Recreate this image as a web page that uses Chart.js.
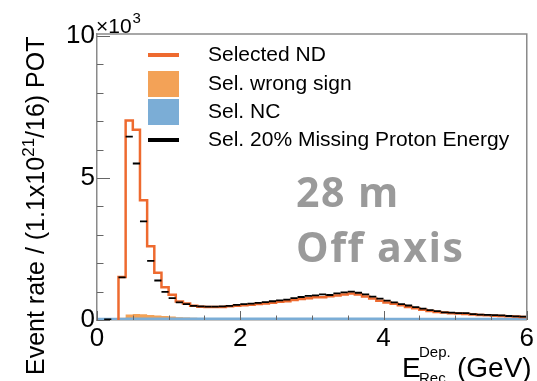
<!DOCTYPE html>
<html>
<head>
<meta charset="utf-8">
<script src="https://cdn.jsdelivr.net/npm/chart.js@4"></script>
<style>
  html, body { margin: 0; padding: 0; background: #fff; }
  #wrap { width: 537px; height: 381px; position: relative; }
</style>
</head>
<body>
<div id="wrap"><canvas id="chart" width="537" height="381"></canvas></div>
<script>
// bin lower edges (GeV), 0.1 GeV wide
const binLow = [
  0.0, 0.1, 0.2, 0.3, 0.4, 0.5, 0.6, 0.7, 0.8, 0.9,
  1.0, 1.1, 1.2, 1.3, 1.4, 1.5, 1.6, 1.7, 1.8, 1.9,
  2.0, 2.1, 2.2, 2.3, 2.4, 2.5, 2.6, 2.7, 2.8, 2.9,
  3.0, 3.1, 3.2, 3.3, 3.4, 3.5, 3.6, 3.7, 3.8, 3.9,
  4.0, 4.1, 4.2, 4.3, 4.4, 4.5, 4.6, 4.7, 4.8, 4.9,
  5.0, 5.1, 5.2, 5.3, 5.4, 5.5, 5.6, 5.7, 5.8, 5.9
];
const binWidth = 0.1;
const xMax = 6;

// event rates in units of 10^3
const selectedND = [
  0, 0, 0, 1.51, 7.02, 6.70, 4.22, 2.60, 1.66, 1.15,
  0.89, 0.65, 0.58, 0.50, 0.47, 0.46, 0.46, 0.46, 0.48, 0.50,
  0.52, 0.54, 0.56, 0.58, 0.61, 0.64, 0.66, 0.70, 0.74, 0.77,
  0.80, 0.80, 0.84, 0.86, 0.90, 0.93, 0.90, 0.83, 0.76, 0.68,
  0.62, 0.57, 0.52, 0.46, 0.41, 0.36, 0.32, 0.28, 0.26, 0.24,
  0.23, 0.21, 0.19, 0.18, 0.17, 0.15, 0.14, 0.13, 0.12, 0.11
];
const wrongSign = [
  0, 0, 0, 0.08, 0.19, 0.21, 0.20, 0.18, 0.16, 0.14,
  0.12, 0.10, 0.09, 0.08, 0.07, 0.06, 0.05, 0.05, 0.05, 0.05,
  0.04, 0.04, 0.04, 0.04, 0.04, 0.04, 0.04, 0.04, 0.04, 0.04,
  0.04, 0.04, 0.04, 0.04, 0.04, 0.04, 0.04, 0.04, 0.04, 0.04,
  0.03, 0.03, 0.03, 0.03, 0.03, 0.03, 0.03, 0.03, 0.03, 0.03,
  0.03, 0.03, 0.03, 0.03, 0.03, 0.03, 0.03, 0.03, 0.03, 0.03
];
const selNC = [
  0.08, 0.08, 0.08, 0.08, 0.09, 0.09, 0.09, 0.09, 0.09, 0.09,
  0.09, 0.09, 0.09, 0.09, 0.09, 0.09, 0.09, 0.09, 0.09, 0.09,
  0.09, 0.09, 0.09, 0.09, 0.09, 0.09, 0.09, 0.09, 0.09, 0.09,
  0.09, 0.09, 0.09, 0.09, 0.09, 0.09, 0.09, 0.09, 0.09, 0.09,
  0.08, 0.08, 0.08, 0.08, 0.08, 0.08, 0.08, 0.08, 0.08, 0.08,
  0.08, 0.08, 0.08, 0.08, 0.08, 0.08, 0.08, 0.08, 0.08, 0.08
];
const missingProton = [
  null, 0.02, null, 1.50, 6.46, 5.51, 3.47, 2.08, 1.39, 0.99,
  0.77, 0.62, 0.56, 0.50, 0.48, 0.47, 0.47, 0.48, 0.50, 0.53,
  0.56, 0.58, 0.60, 0.63, 0.66, 0.69, 0.72, 0.77, 0.81, 0.85,
  0.87, 0.90, 0.88, 0.94, 0.97, 1.00, 0.96, 0.90, 0.82, 0.75,
  0.68, 0.62, 0.56, 0.51, 0.45, 0.40, 0.35, 0.31, 0.27, 0.26,
  0.24, 0.24, 0.21, 0.19, 0.18, 0.17, 0.16, 0.14, 0.13, 0.12
];

const xTicks = [0, 2, 4, 6];
const yTicks = [0, 5, 10];
const xMinorStep = 0.5;
const yMinorStep = 1;

const legendItems = [
  { label: 'Selected ND', kind: 'line', color: '#ee6a2f' },
  { label: 'Sel. wrong sign', kind: 'box', color: '#f3a257' },
  { label: 'Sel. NC', kind: 'box', color: '#7badd6' },
  { label: 'Sel. 20% Missing Proton Energy', kind: 'line', color: '#000' }
];

const FONT = '"Liberation Sans", Arial, Helvetica, sans-serif';

// step outline: points at bin low edges, last one closes at xMax
function stepPoints(vals, skipLeadingZeros) {
  const pts = [];
  let started = !skipLeadingZeros;
  vals.forEach((v, i) => {
    if (!started) {
      if (!v) return;
      started = true;
      pts.push({ x: binLow[i], y: 0 });
    }
    pts.push({ x: binLow[i], y: v });
  });
  pts.push({ x: xMax, y: vals[vals.length - 1] });
  return pts;
}

const centerPoints = missingProton
  .map((v, i) => (v === null ? null : { x: binLow[i] + binWidth / 2, y: v }))
  .filter(p => p);

const decor = {
  id: 'decor',
  afterDraw(chart) {
    const ctx = chart.ctx;
    const xs = chart.scales.x, ys = chart.scales.y;
    const a = chart.chartArea;
    ctx.save();

    // frame (top, right)
    ctx.strokeStyle = '#8a8a8a';
    ctx.lineWidth = 1.5;
    ctx.beginPath();
    ctx.moveTo(a.left, a.top);
    ctx.lineTo(a.right, a.top);
    ctx.lineTo(a.right, a.bottom);
    ctx.stroke();

    // inward tick marks
    ctx.strokeStyle = '#666';
    ctx.lineWidth = 1;
    ctx.beginPath();
    for (let v = 0; v <= xMax + 1e-9; v += xMinorStep) {
      const px = Math.round(xs.getPixelForValue(v)) + 0.5;
      const len = xTicks.includes(Math.round(v * 10) / 10) ? 9 : 4.5;
      ctx.moveTo(px, a.bottom);
      ctx.lineTo(px, a.bottom - len);
    }
    for (let v = 0; v <= ys.max + 1e-9; v += yMinorStep) {
      const py = Math.round(ys.getPixelForValue(v)) + 0.5;
      const len = yTicks.includes(v) ? 13 : 6.5;
      ctx.moveTo(a.left, py);
      ctx.lineTo(a.left + len, py);
    }
    ctx.stroke();

    // legend
    ctx.textBaseline = 'middle';
    ctx.textAlign = 'left';
    ctx.font = '21px ' + FONT;
    const rows = [55, 84, 112, 140];
    legendItems.forEach((it, i) => {
      const y = rows[i];
      ctx.fillStyle = it.color;
      if (it.kind === 'line') {
        ctx.fillRect(148, y - 2, 31, 4);
      } else {
        ctx.fillRect(148, y - 13, 31, 26);
      }
      ctx.fillStyle = '#000';
      ctx.fillText(it.label, 208, y);
    });

    // x10^3 multiplier
    ctx.textBaseline = 'alphabetic';
    ctx.font = '21px ' + FONT;
    ctx.fillText('\u00d710', 96, 33);
    const mw = ctx.measureText('\u00d710').width;
    ctx.font = '15px ' + FONT;
    ctx.fillText('3', 96 + mw + 1, 23);

    // y-axis title
    ctx.save();
    ctx.translate(44, 375);
    ctx.rotate(-Math.PI / 2);
    ctx.font = '25px ' + FONT;
    const t1 = 'Event rate / (1.1x10';
    ctx.fillText(t1, 0, 0);
    let w = ctx.measureText(t1).width;
    ctx.font = '17px ' + FONT;
    ctx.fillText('21', w, -10);
    w += ctx.measureText('21').width;
    ctx.font = '25px ' + FONT;
    ctx.fillText('/16) POT', w, 0);
    ctx.restore();

    // x-axis title
    ctx.font = '28px ' + FONT;
    ctx.fillText('E', 402, 377);
    ctx.font = '15px ' + FONT;
    ctx.fillText('Dep.', 419, 357);
    ctx.fillText('Rec.', 419, 383);
    ctx.font = '28px ' + FONT;
    ctx.fillText('(GeV)', 457, 377);

    // annotation
    ctx.fillStyle = '#9a9a9a';
    ctx.font = 'bold 41px "Open Sans", sans-serif';
    if ('letterSpacing' in ctx) ctx.letterSpacing = '1.5px';
    ctx.fillText('28 m', 296, 207);
    ctx.fillText('Off axis', 296, 262);

    ctx.restore();
  }
};

new Chart(document.getElementById('chart'), {
  type: 'line',
  data: {
    datasets: [
      {
        label: 'Sel. 20% Missing Proton Energy',
        data: centerPoints,
        showLine: false,
        pointStyle: 'line',
        borderColor: '#000',
        backgroundColor: '#000',
        borderWidth: 1.8,
        radius: c => {
          const s = c.chart.scales.x;
          return s ? (s.getPixelForValue(binWidth) - s.getPixelForValue(0)) / 2 : 3.6;
        },
        hoverRadius: 3.6,
        order: 0
      },
      {
        label: 'Selected ND',
        data: stepPoints(selectedND, true),
        stepped: 'before',
        borderColor: '#ee6a2f',
        borderWidth: 2.5,
        pointRadius: 0,
        fill: false,
        order: 1
      },
      {
        label: 'Sel. NC',
        data: stepPoints(selNC, false),
        stepped: 'before',
        borderWidth: 0,
        borderColor: '#7badd6',
        backgroundColor: '#7badd6',
        pointRadius: 0,
        fill: 'origin',
        order: 2
      },
      {
        label: 'Sel. wrong sign',
        data: stepPoints(wrongSign, true),
        stepped: 'before',
        borderWidth: 0,
        borderColor: '#f3a257',
        backgroundColor: '#f3a257',
        pointRadius: 0,
        fill: 'origin',
        order: 3
      }
    ]
  },
  options: {
    responsive: false,
    devicePixelRatio: 1,
    animation: false,
    events: [],
    layout: { padding: { top: 34, right: 4, left: 0, bottom: 0 } },
    plugins: { legend: { display: false }, tooltip: { enabled: false } },
    scales: {
      x: {
        type: 'linear',
        min: 0,
        max: xMax,
        afterFit: s => { s.height = 61; },
        grid: { display: false, drawTicks: false },
        border: { display: true, color: '#8a8a8a', width: 1.5 },
        ticks: {
          stepSize: 2,
          autoSkip: false,
          maxRotation: 0,
          padding: 3,
          color: '#000',
          font: { size: 26, family: FONT },
          callback: v => (xTicks.includes(v) ? String(v) : '')
        }
      },
      y: {
        type: 'linear',
        min: 0,
        max: 10.07,
        afterFit: s => { s.width = 97; },
        grid: { display: false, drawTicks: false },
        border: { display: true, color: '#8a8a8a', width: 1.5 },
        ticks: {
          stepSize: 5,
          includeBounds: false,
          autoSkip: false,
          padding: 2,
          color: '#000',
          font: { size: 26, family: FONT },
          callback: v => (yTicks.includes(v) ? String(v) : '')
        }
      }
    }
  },
  plugins: [decor]
});
</script>
</body>
</html>
